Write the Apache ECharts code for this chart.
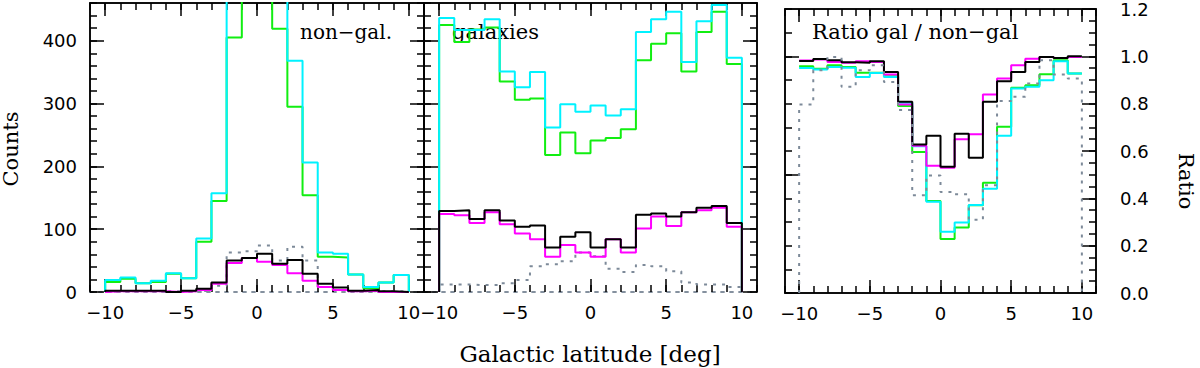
<!DOCTYPE html>
<html><head><meta charset="utf-8">
<script src="https://cdn.jsdelivr.net/npm/echarts@6/dist/echarts.min.js"></script>
<style>html,body{margin:0;padding:0;background:#fff}#c{width:1200px;height:368px}</style>
</head><body><div id="c"></div>
<script>
// Bin lower edges (galactic latitude, deg) and upper end
const latBins = [-10,-9,-8,-7,-6,-5,-4,-3,-2,-1,0,1,2,3,4,5,6,7,8,9];
const latEnd = 10;

// Panel 1: non-galaxy counts
const nongalCyan    = [19,23,14,18,30,22,85,157,700,1000,1100,800,368,206,63,61,28,8,15,27];
const nongalGreen   = [16,21,14,16,29,22,80,145,405,550,520,419,295,154,56,55,28,6,15,27];
const nongalMagenta = [1,1,1,1,0,1,3,13,46,54,48,43,30,18,8,3,1,2,0,0];
const nongalBlack   = [2,2,2,2,0,2,5,15,50,54,61,45,51,29,13,7,2,3,1,0];
const nongalGrey    = [1,1,1,1,1,1,2,10,63,65,74,50,72,50,8,3,1,1,1,1];

// Panel 2: galaxy counts
const galCyan    = [436,417,417,434,351,326,350,262,299,287,297,281,291,414,434,446,366,431,457,373];
const galGreen   = [425,398,418,421,335,306,308,218,254,221,241,245,259,369,395,412,351,414,446,363];
const galBlack   = [129,130,116,130,114,104,106,71,88,95,71,84,71,123,125,120,127,134,137,110];
const galMagenta = [124,122,110,127,108,93,84,56,75,63,56,84,63,101,120,105,127,130,134,104];
const galGrey    = [12,12,11,11,14,19,41,44,49,63,57,37,32,43,41,33,15,12,12,8];

// Panel 3: ratio gal / non-gal
const ratioBlack   = [0.980,0.989,0.983,0.975,0.973,0.979,0.934,0.808,0.627,0.664,0.533,0.673,0.571,0.808,0.895,0.934,0.976,0.997,0.993,1.000];
const ratioMagenta = [0.982,0.987,0.976,0.973,0.979,0.976,0.923,0.797,0.622,0.538,0.529,0.650,0.671,0.839,0.906,0.962,0.990,0.997,0.993,0.997];
const ratioGreen   = [0.958,0.948,0.962,0.955,0.931,0.931,0.916,0.790,0.596,0.389,0.228,0.277,0.371,0.466,0.702,0.867,0.878,0.924,0.983,0.927];
const ratioCyan    = [0.951,0.944,0.955,0.952,0.913,0.930,0.913,0.804,0.620,0.386,0.259,0.298,0.372,0.441,0.664,0.864,0.871,0.899,0.979,0.927];
const ratioGrey    = [0.797,0.941,0.997,0.871,0.941,0.962,0.892,0.773,0.413,0.497,0.427,0.417,0.309,0.455,0.811,0.829,0.885,0.983,0.923,0.906];

// Tick values
const xMajorTicks = [-10,-5,0,5,10];
const countTicks = [0,100,200,300,400];
const ratioTicks = [0,0.2,0.4,0.6,0.8,1.0,1.2];
const ratioLeftMajor = [0,0.5,1.0];

const BLACK = '#000000', GREY = '#7d8a99';
const C_CYAN = '#00f2ff', C_GREEN = '#11ee11', C_MAG = '#ff00ff';
const numFont = {fontFamily:'DejaVu Sans', fontSize:18, color:'#000'};

function tl(){ return {color:BLACK, width:1.5}; }
function histPath(vals, drop){
  const pts = [];
  if (drop) pts.push([latBins[0], 0]);
  vals.forEach((v,i)=>pts.push([latBins[i], v]));
  pts.push([latEnd, vals[vals.length-1]]);
  if (drop) pts.push([latEnd, 0]);
  return pts;
}
function fmtX(v){ return String(v).replace('-', '\u2212'); }

function xAxesFor(g, bottomDashed){
  const base = {gridIndex:g, type:'value', min:-11, max:11, splitLine:{show:false}};
  const bottomLine = bottomDashed ? {color:GREY, width:1.5, type:[3,6]} : {color:BLACK, width:1.5};
  return [
    Object.assign({}, base, {position:'bottom',
      axisLine:{show:true, onZero:false, lineStyle:bottomLine},
      axisTick:{show:true, inside:true, length:13, customValues:xMajorTicks, lineStyle:tl()},
      axisLabel:Object.assign({show:true, customValues:xMajorTicks, formatter:fmtX, margin:11}, numFont)}),
    Object.assign({}, base, {position:'bottom', interval:1,
      axisLine:{show:true, onZero:false, lineStyle:bottomLine},
      axisTick:{show:true, inside:true, length:7, lineStyle:tl()},
      axisLabel:{show:false}}),
    Object.assign({}, base, {position:'top',
      axisLine:{show:true, onZero:false, lineStyle:tl()},
      axisTick:{show:true, inside:true, length:13, customValues:xMajorTicks, lineStyle:tl()},
      axisLabel:{show:false}}),
    Object.assign({}, base, {position:'top', interval:1,
      axisLine:{show:true, onZero:false, lineStyle:tl()},
      axisTick:{show:true, inside:true, length:7, lineStyle:tl()},
      axisLabel:{show:false}})
  ];
}

function yAxesFor(g, s){
  const base = {gridIndex:g, type:'value', min:0, max:s.max, splitLine:{show:false}};
  return [
    Object.assign({}, base, {position:'left',
      axisLine:{show:true, onZero:false, lineStyle:tl()},
      axisTick:{show:true, inside:true, length:14, customValues:s.leftMajor, lineStyle:tl()},
      axisLabel: s.leftLabels ? Object.assign({show:true, customValues:s.leftMajor, margin:13}, numFont) : {show:false}}),
    Object.assign({}, base, {position:'left', interval:s.leftMinor,
      axisLine:{show:true, onZero:false, lineStyle:tl()},
      axisTick:{show:true, inside:true, length:7, lineStyle:tl()},
      axisLabel:{show:false}}),
    Object.assign({}, base, {position:'right',
      axisLine:{show:true, onZero:false, lineStyle:tl()},
      axisTick:{show:true, inside:true, length:14, customValues:s.rightMajor, lineStyle:tl()},
      axisLabel: s.rightLabels ? Object.assign({show:true, customValues:s.rightMajor, margin:24, formatter:v=>v.toFixed(1)}, numFont) : {show:false}}),
    Object.assign({}, base, {position:'right', interval:s.rightMinor,
      axisLine:{show:true, onZero:false, lineStyle:tl()},
      axisTick:{show:true, inside:true, length:7, lineStyle:tl()},
      axisLabel:{show:false}})
  ];
}

function stepSeries(g, vals, color, drop, dashed, z){
  return {type:'line', xAxisIndex:4*g, yAxisIndex:4*g, data:histPath(vals, drop), step:'end',
    symbol:'none', showSymbol:false, silent:true, animation:false, clip:true, z:z,
    lineStyle:{color:color, width:2, type: dashed ? [3,6] : 'solid'}};
}

const countSpec = {max:460, leftMajor:countTicks, leftMinor:20, rightMajor:countTicks, rightMinor:20};

const option = {
  animation:false,
  backgroundColor:'#ffffff',
  grid:[
    {left:90, top:3, width:334, height:289},
    {left:424, top:3, width:333, height:289},
    {left:785, top:5, width:311, height:288}
  ],
  xAxis:[].concat(xAxesFor(0,true), xAxesFor(1,true), xAxesFor(2,false)),
  yAxis:[].concat(
    yAxesFor(0, Object.assign({leftLabels:true, rightLabels:false}, countSpec)),
    yAxesFor(1, Object.assign({leftLabels:false, rightLabels:false}, countSpec)),
    yAxesFor(2, {max:1.2, leftMajor:ratioLeftMajor, leftMinor:0.1, rightMajor:ratioTicks, rightMinor:0.05, leftLabels:false, rightLabels:true})
  ),
  series:[
    stepSeries(0, nongalGrey, GREY, true, true, 2),
    stepSeries(0, nongalGreen, C_GREEN, true, false, 3),
    stepSeries(0, nongalCyan, C_CYAN, true, false, 4),
    stepSeries(0, nongalMagenta, C_MAG, true, false, 5),
    stepSeries(0, nongalBlack, BLACK, true, false, 6),

    stepSeries(1, galGrey, GREY, true, true, 2),
    stepSeries(1, galGreen, C_GREEN, true, false, 3),
    stepSeries(1, galCyan, C_CYAN, true, false, 4),
    stepSeries(1, galMagenta, C_MAG, true, false, 5),
    stepSeries(1, galBlack, BLACK, true, false, 6),

    stepSeries(2, ratioGreen, C_GREEN, false, false, 3),
    stepSeries(2, ratioCyan, C_CYAN, false, false, 4),
    stepSeries(2, ratioMagenta, C_MAG, false, false, 5),
    stepSeries(2, ratioBlack, BLACK, false, false, 6),
    stepSeries(2, ratioGrey, GREY, true, true, 7)
  ],
  graphic:[
    {type:'text', x:11, y:149, rotation:Math.PI/2, style:{text:'Counts', font:'21px "DejaVu Serif"', fill:'#000', align:'center', verticalAlign:'middle'}},
    {type:'text', x:1186, y:181, rotation:-Math.PI/2, style:{text:'Ratio', font:'21px "DejaVu Serif"', fill:'#000', align:'center', verticalAlign:'middle'}},
    {type:'text', x:590, y:354, style:{text:'Galactic latitude [deg]', font:'23px "DejaVu Serif"', fill:'#000', align:'center', verticalAlign:'middle'}},
    {type:'text', x:300, y:32, style:{text:'non\u2212gal.', font:'20px "DejaVu Serif"', fill:'#000', align:'left', verticalAlign:'middle'}},
    {type:'text', x:452, y:32, style:{text:'galaxies', font:'21px "DejaVu Serif"', fill:'#000', align:'left', verticalAlign:'middle'}},
    {type:'text', x:812, y:32, style:{text:'Ratio gal / non\u2212gal', font:'21px "DejaVu Serif"', fill:'#000', align:'left', verticalAlign:'middle'}}
  ]
};
const chart = echarts.init(document.getElementById('c'), null, {renderer:'svg'});
chart.setOption(option);
</script>
</body></html>
